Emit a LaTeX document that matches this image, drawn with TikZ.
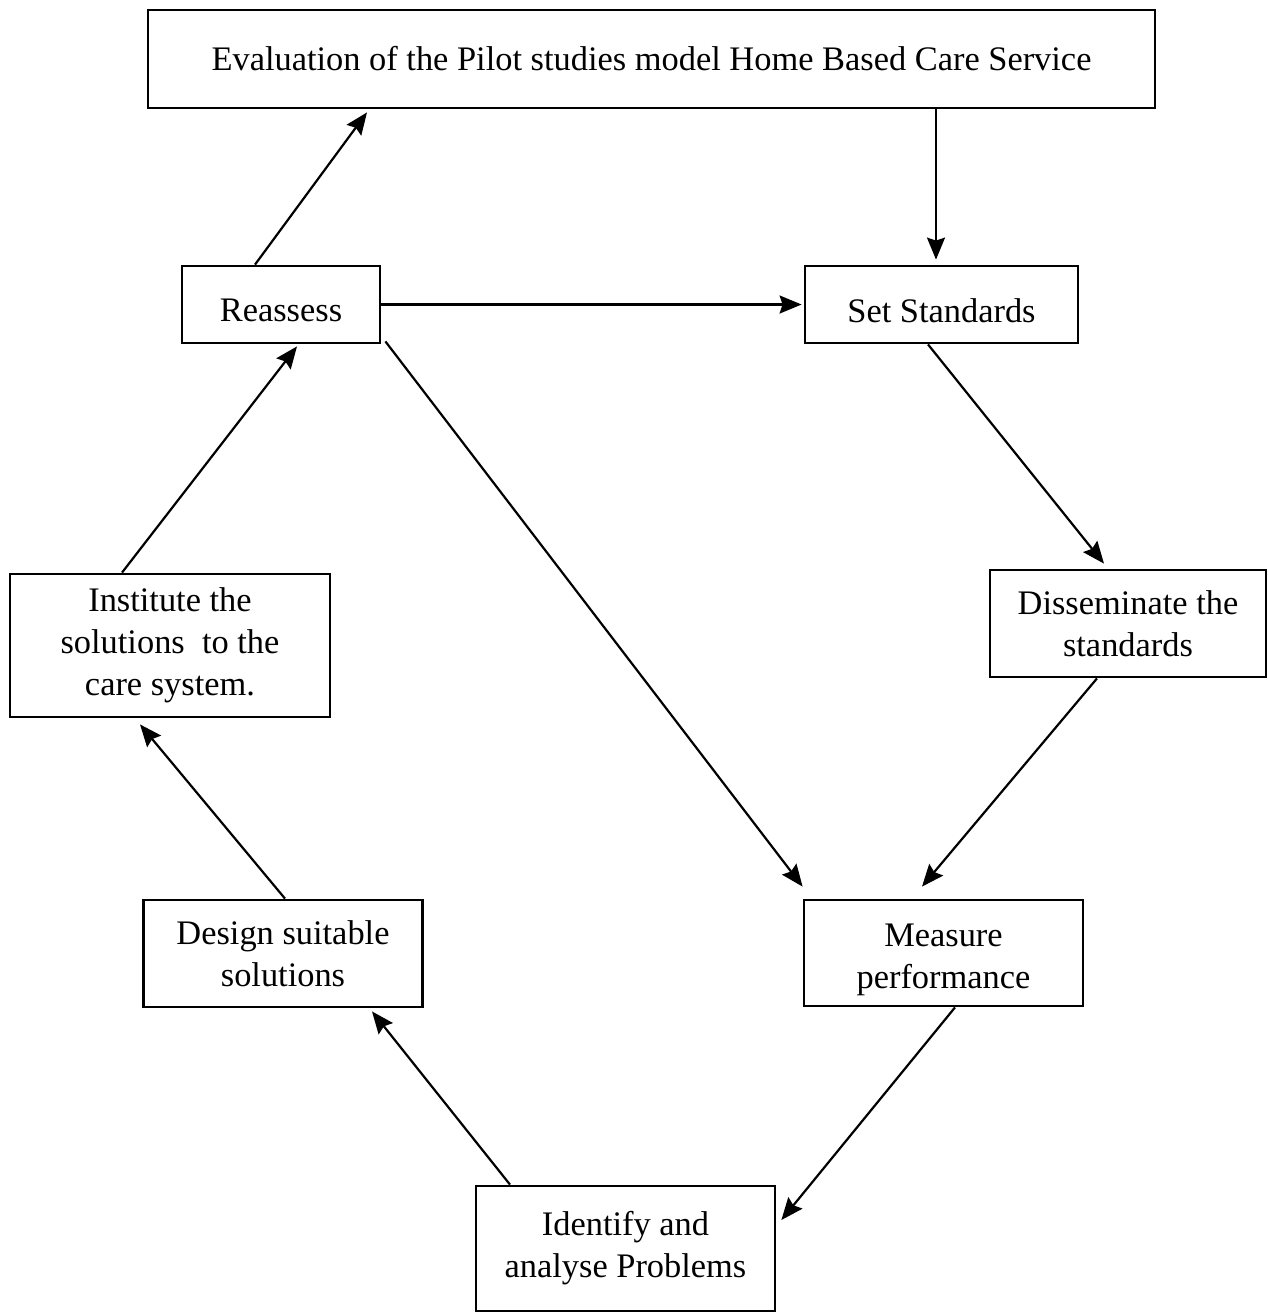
\documentclass[tikz,border=0pt]{standalone}
\usepackage{fontspec}
\setmainfont{Liberation Serif}
\usetikzlibrary{arrows.meta}
\tikzset{lowtext/.style={execute at begin node={\rule{0pt}{#1}}}}
\begin{document}
\begin{tikzpicture}[x=0.5pt,y=-0.5pt]
      \useasboundingbox (0,0) rectangle (1268,1314);

      \begin{scope}[every node/.style={draw,line width=1.4pt,align=center,inner sep=0pt,
          font=\fontsize{17.2}{21}\selectfont}]
        \node[minimum width=503.5pt,minimum height=49pt] (eval) at (651.5,59)
          {Evaluation of the Pilot studies model Home Based Care Service};
        \node[minimum width=99pt,minimum height=38.5pt,lowtext=17.5pt] (reassess) at (281,304.5) {Reassess};
        \node[minimum width=136.5pt,minimum height=38.5pt,lowtext=17.8pt] (setstd) at (941.5,304.5) {Set Standards};
        \node[minimum width=138pt,minimum height=53.5pt] (dissem) at (1128,623.5)
          {Disseminate the\\standards};
        \node[minimum width=160pt,minimum height=71.5pt] (inst) at (170,645.5)
          {Institute the\\solutions\ \ to the\\care system.};
        \node[minimum width=139.5pt,minimum height=53pt] (measure) at (943.5,953)
          {\rule{0pt}{18.2pt}Measure\\performance};
        \node[minimum width=139.5pt,minimum height=53.5pt] (design) at (283,953.5)
          {Design suitable\\solutions};
        \node[minimum width=149.5pt,minimum height=62.5pt] (ident) at (625.5,1248.5)
          {Identify and\\analyse Problems};
      \end{scope}

      \begin{scope}[every edge/.style={draw,line width=1.1pt,
          -{Stealth[length=11pt,width=9pt,inset=1.5pt]}}]
        \path ([xshift=-13pt]reassess.north) edge ([xshift=-142.25pt,yshift=-1.5pt]eval.south);
        \path ([xshift=142.25pt]eval.south) edge ([xshift=-2.75pt,yshift=2.5pt]setstd.north);
        \path (reassess.east) edge ([xshift=-1pt]setstd.west);
        \path ([xshift=2pt,yshift=1.5pt]reassess.south east) edge ([yshift=6pt]measure.north west);
        \path ([xshift=-6.75pt]setstd.south) edge ([xshift=-12pt,yshift=2.5pt]dissem.north);
        \path ([xshift=-15.5pt]dissem.south) edge ([xshift=-10.75pt,yshift=6pt]measure.north);
        \path ([xshift=5.75pt]measure.south) edge ([xshift=2.5pt,yshift=14.25pt]ident.east);
        \path ([xshift=-57.75pt]ident.north) edge ([xshift=44.5pt,yshift=-1.5pt]design.south);
        \path ([xshift=1pt]design.north) edge ([xshift=-15pt,yshift=-3pt]inst.south);
        \path ([xshift=-24pt]inst.north) edge ([xshift=8pt,yshift=-1pt]reassess.south);
      \end{scope}

    \end{tikzpicture}
\end{document}
